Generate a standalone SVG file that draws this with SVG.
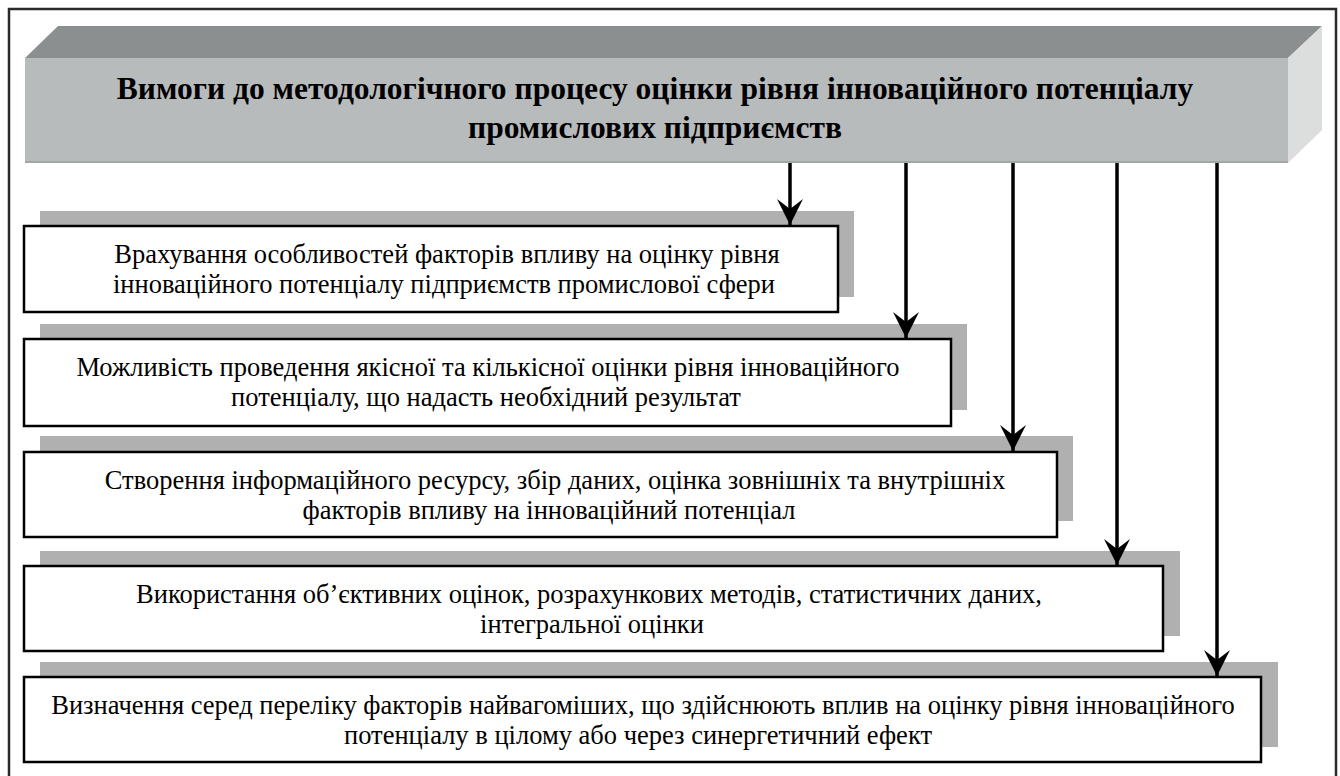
<svg xmlns="http://www.w3.org/2000/svg" width="1340" height="776" viewBox="0 0 1340 776">
<style>
.frame{fill:none;stroke:#2a2a2a;stroke-width:2.5}
.sh{fill:#b0b0b0}
.box{fill:#ffffff;stroke:#000;stroke-width:2.5}
.t{font-family:"Liberation Serif","Times New Roman","DejaVu Serif",serif;font-size:26.5px;fill:#000;text-anchor:middle}
.h{font-family:"Liberation Serif","Times New Roman","DejaVu Serif",serif;font-size:31.5px;font-weight:bold;fill:#000;text-anchor:middle}
.ln{stroke:#000;stroke-width:3.5;fill:none}
</style>
<defs>
<marker id="ah" viewBox="0 0 26 26" refX="26" refY="13" markerWidth="26" markerHeight="26" markerUnits="userSpaceOnUse" orient="auto">
<path d="M0,0 L26,13 L0,26 L10,13 Z" fill="#000"/>
</marker>
</defs>
<rect width="1340" height="776" fill="#fff"/>
<rect class="frame" x="9" y="9" width="1327" height="800"/>
<g id="header">
<polygon points="25,58 58,26 1322,26 1288,58" fill="#8c8f90"/>
<polygon points="1288,58 1322,26 1322,130 1288,163" fill="#dcdddd"/>
<rect x="25" y="58" width="1263" height="105" fill="#b8bbbc"/>
<line x1="25" y1="162" x2="1288" y2="162" stroke="#a3a6a7" stroke-width="2"/>
<text class="h" x="655" y="99">Вимоги до методологічного процесу оцінки рівня інноваційного потенціалу</text>
<text class="h" x="655" y="138">промислових підприємств</text>
</g>
<g id="n1">
<rect class="sh" x="40" y="211" width="814" height="86"/>
<rect class="box" x="24" y="226" width="814" height="86"/>
<text class="t" x="447" y="263">Врахування особливостей факторів впливу на оцінку рівня</text>
<text class="t" x="444" y="293">інноваційного потенціалу підприємств промислової сфери</text>
</g>
<g id="n2">
<rect class="sh" x="40" y="324" width="927" height="86"/>
<rect class="box" x="24" y="339" width="927" height="87"/>
<text class="t" x="488" y="376">Можливість проведення якісної та кількісної оцінки рівня інноваційного</text>
<text class="t" x="486" y="406">потенціалу, що надасть необхідний результат</text>
</g>
<g id="n3">
<rect class="sh" x="40" y="436" width="1033" height="85"/>
<rect class="box" x="24" y="452" width="1033" height="85"/>
<text class="t" x="555" y="489">Створення інформаційного ресурсу, збір даних, оцінка зовнішніх та внутрішніх</text>
<text class="t" x="549" y="519">факторів впливу на інноваційний потенціал</text>
</g>
<g id="n4">
<rect class="sh" x="40" y="551" width="1140" height="85"/>
<rect class="box" x="24" y="566" width="1139" height="85"/>
<text class="t" x="589" y="603">Використання об’єктивних оцінок, розрахункових методів, статистичних даних,</text>
<text class="t" x="592" y="633">інтегральної оцінки</text>
</g>
<g id="n5">
<rect class="sh" x="40" y="662" width="1238" height="85"/>
<rect class="box" x="24" y="677" width="1237" height="85"/>
<text class="t" x="643" y="714">Визначення серед переліку факторів найвагоміших, що здійснюють вплив на оцінку рівня інноваційного</text>
<text class="t" x="638" y="744">потенціалу в цілому або через синергетичний ефект</text>
</g>
<g id="connectors">
<line class="ln" x1="790" y1="163" x2="790" y2="225" marker-end="url(#ah)"/>
<line class="ln" x1="906" y1="163" x2="906" y2="338" marker-end="url(#ah)"/>
<line class="ln" x1="1013" y1="163" x2="1013" y2="451" marker-end="url(#ah)"/>
<line class="ln" x1="1117" y1="163" x2="1117" y2="565" marker-end="url(#ah)"/>
<line class="ln" x1="1217" y1="163" x2="1217" y2="676" marker-end="url(#ah)"/>
</g>
</svg>
